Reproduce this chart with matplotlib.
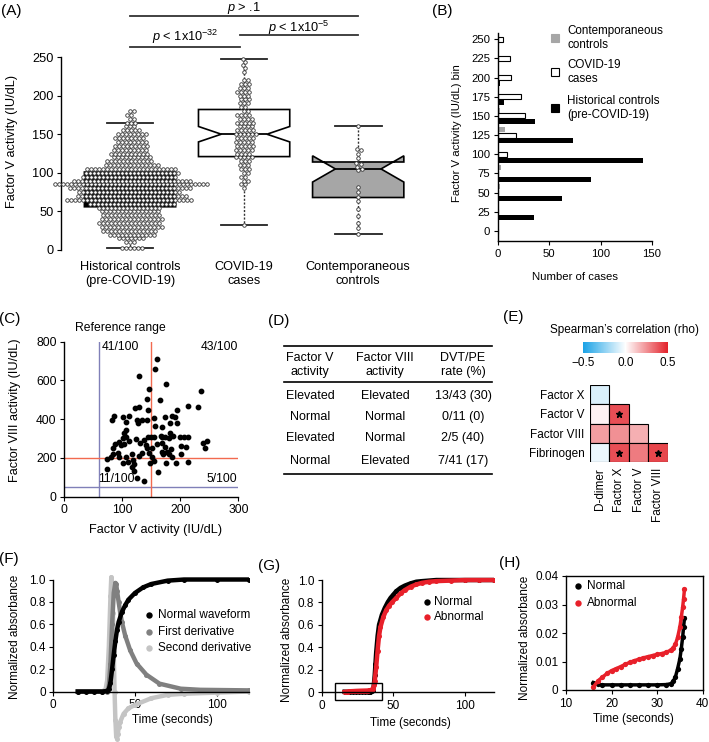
import numpy as np
import matplotlib
matplotlib.use("Agg")
import matplotlib.pyplot as plt
from matplotlib.patches import Rectangle
from matplotlib.lines import Line2D
from matplotlib.colors import LinearSegmentedColormap, Normalize
from matplotlib.cm import ScalarMappable

plt.rcParams['font.family'] = ['Liberation Sans', 'DejaVu Sans']
plt.rcParams['mathtext.fontset'] = 'custom'
plt.rcParams['mathtext.rm'] = 'Liberation Sans'
plt.rcParams['mathtext.it'] = 'Liberation Sans:italic'
plt.rcParams['font.size'] = 8.5
plt.rcParams['axes.linewidth'] = 1.0
plt.rcParams['xtick.major.size'] = 3
plt.rcParams['ytick.major.size'] = 3
plt.rcParams['xtick.major.pad'] = 2.5
plt.rcParams['ytick.major.pad'] = 2.5

# ---- (A) factor V activity by group
groups = ["Historical controls\n(pre-COVID-19)", "COVID-19\ncases", "Contemporaneous\ncontrols"]
hist_levels = [3, 10, 15, 20, 25, 30, 35, 40, 45, 50, 55, 60, 65, 70, 75, 80, 85, 90,
               95, 100, 105, 110, 115, 120, 125, 130, 135, 140, 145, 150, 155, 160, 165, 170, 175, 180]
hist_counts = [6, 3, 7, 12, 14, 16, 16, 16, 15, 15, 16, 22, 32, 28, 26, 31, 39, 30,
               24, 24, 23, 14, 12, 10, 10, 9, 9, 8, 8, 8, 5, 3, 3, 2, 2, 2]
covid_levels = [248, 244, 240, 236, 231, 220, 215, 210, 205, 200, 195, 190, 185, 180,
                175, 170, 165, 160, 155, 150, 145, 140, 135, 130, 125, 120, 115, 110, 105,
                100, 95, 90, 85, 80, 33]
covid_counts = [1, 1, 1, 1, 1, 2, 3, 3, 4, 3, 3, 3, 2, 2,
                4, 4, 5, 4, 5, 6, 5, 5, 5, 5, 4, 5, 3, 3, 3,
                2, 2, 2, 2, 1, 1]
contemp_vals = [161, 131, 129, 125, 119, 113, 111, 108, 105, 103, 82, 75, 69, 63, 53, 44, 35, 28, 21]
box_med = [80, 150, 105]
box_q1 = [56, 121, 68]
box_q3 = [101, 182, 114]
box_lo = [2, 33, 21]
box_hi = [164, 248, 161]
notch_lo = [77, 140, 88]
notch_hi = [83, 160, 122]
box_colors = ["black", "white", "#a6a6a6"]
pvals = [r"$p$ > .1", r"$p$ < 1x10$^{-32}$", r"$p$ < 1x10$^{-5}$"]

# ---- (B) binned counts
bins = [0, 25, 50, 75, 100, 125, 150, 175, 200, 225, 250]
hist_b = [0, 35, 62, 91, 141, 73, 36, 6, 2, 0, 0]
covid_b = [0, 0, 0, 0, 9, 18, 26, 22, 13, 12, 5]
contemp_b = [0, 1, 2, 3, 1, 7, 2, 0, 0, 0, 0]

# ---- (C) factor V vs factor VIII
fv = [159, 157, 176, 129, 146, 142, 165, 236, 213, 231, 85, 83, 122, 129, 102, 111, 125, 127,
      134, 142, 145, 154, 157, 174, 194, 186, 191, 195, 182, 169, 106, 106, 103, 107, 102, 111,
      94, 103, 97, 87, 84, 92, 80, 84, 107, 102, 74, 73, 94, 116, 119, 120, 117, 120, 126, 138,
      128, 134, 141, 138, 144, 149, 143, 146, 151, 151, 147, 162, 155, 159, 166, 169, 169, 174,
      173, 169, 171, 176, 180, 182, 188, 184, 181, 177, 192, 185, 202, 202, 200, 206, 210, 213,
      214, 239, 242, 246, 130, 124, 110, 155]
f8 = [710, 657, 581, 623, 554, 506, 499, 545, 468, 465, 416, 396, 456, 465, 413, 416, 396, 382,
      396, 396, 447, 406, 365, 409, 447, 416, 409, 378, 378, 361, 387, 344, 327, 310, 301, 289,
      284, 274, 267, 272, 249, 224, 206, 220, 206, 172, 141, 193, 203, 218, 189, 169, 151, 132, 95, 81,
      210, 224, 267, 292, 310, 310, 253, 224, 253, 206, 172, 126, 310, 272, 315, 310, 275, 310,
      258, 232, 218, 174, 301, 327, 313, 248, 220, 232, 172, 206, 220, 263, 310, 310, 258, 181,
      310, 279, 249, 289, 275, 300, 180, 185]

# ---- (D) table
tab_head = ["Factor V\nactivity", "Factor VIII\nactivity", "DVT/PE\nrate (%)"]
tab_fv = ["Elevated", "Normal", "Elevated", "Normal"]
tab_f8 = ["Elevated", "Normal", "Normal", "Elevated"]
tab_rate = ["13/43 (30)", "0/11 (0)", "2/5 (40)", "7/41 (17)"]

# ---- (E) Spearman correlation
e_rows = ["Factor X", "Factor V", "Factor VIII", "Fibrinogen"]
e_cols = ["D-dimer", "Factor X", "Factor V", "Factor VIII"]
rho = [[-0.08, np.nan, np.nan, np.nan],
       [0.03, 0.40, np.nan, np.nan],
       [0.22, 0.25, 0.18, np.nan],
       [-0.04, 0.40, 0.30, 0.42]]
sig = [(1, 1), (3, 1), (3, 3)]

# ---- (F) waveform and derivatives
f_t = [15, 20, 25, 30, 33, 34, 35, 36, 37, 38, 39, 40, 42, 44, 46, 50, 55, 60, 70, 80, 100, 120]
f_wave = [0, 0, 0, 0, 0.005, 0.02, 0.08, 0.2, 0.33, 0.45, 0.55, 0.62, 0.71, 0.77, 0.82, 0.88,
          0.93, 0.96, 0.99, 1.0, 1.0, 1.0]
d1_t = [15, 30, 33, 34, 35, 36, 37, 38, 38.5, 39, 40, 41, 42, 44, 47, 51, 57, 65, 78, 90, 120]
d1 = [0, 0, 0, 0.05, 0.25, 0.6, 0.88, 0.97, 0.96, 0.9, 0.8, 0.7, 0.62, 0.5, 0.37, 0.25, 0.15,
      0.07, 0.025, 0.015, 0.01]
d2_t = [15, 30, 32, 33, 34, 35, 35.5, 36, 36.5, 37, 37.5, 38, 38.5, 39, 39.5, 40, 41, 43, 46,
        50, 60, 70, 80, 100, 120]
d2 = [0, 0, 0.02, 0.1, 0.4, 0.85, 1.02, 0.95, 0.7, 0.35, 0.0, -0.25, -0.4, -0.42, -0.38,
      -0.32, -0.27, -0.2, -0.15, -0.12, -0.06, -0.03, -0.02, -0.01, 0]

# ---- (G)/(H) normal vs abnormal waveform
nrm_t = [16, 17, 18, 20, 22, 24, 26, 28, 30, 32, 33, 33.5, 34, 34.5, 35, 35.3, 35.6, 35.8, 36,
         36.5, 37, 37.5, 38, 39, 40, 42, 44, 46, 48, 50, 52, 55, 58, 62, 66, 70, 80, 90, 100, 110, 120]
nrm_y = [0.0026, 0.002, 0.0018, 0.0018, 0.0018, 0.0018, 0.0018, 0.0018, 0.0018, 0.0019,
         0.0022, 0.003, 0.0045, 0.0075, 0.011, 0.0145, 0.0185, 0.022, 0.0253,
         0.08, 0.15, 0.25, 0.35, 0.5, 0.6, 0.69, 0.75, 0.8, 0.84, 0.87, 0.9, 0.93, 0.95, 0.97,
         0.985, 0.99, 1.0, 1.0, 1.0, 1.0, 1.0]
abn_t = [16, 17, 18, 19, 20, 21, 22, 23, 24, 25, 26, 27, 28, 29, 30, 31, 32, 33, 33.5, 34,
         34.5, 35, 35.3, 35.6, 35.8, 36, 36.5, 37, 38, 39, 40, 41, 43, 45, 47, 49, 52, 55, 58,
         62, 66, 70, 75, 80, 90, 100, 110, 120]
abn_y = [0.001, 0.0032, 0.0045, 0.0058, 0.0068, 0.0075, 0.0082, 0.009, 0.0097, 0.0103,
         0.0108, 0.0113, 0.0117, 0.0121, 0.0125, 0.0128, 0.0132, 0.014, 0.0148, 0.016,
         0.0185, 0.0222, 0.0255, 0.029, 0.032, 0.0353, 0.06, 0.1, 0.22, 0.37, 0.5, 0.58,
         0.67, 0.73, 0.77, 0.8, 0.84, 0.88, 0.91, 0.94, 0.96, 0.975, 0.985, 0.99, 0.995,
         1.0, 1.0, 1.0]

W, H = 709, 742
fig = plt.figure(figsize=(W / 100, H / 100), dpi=100)
FA = 9.2   # text size of panels A, C, D


def box(l, t, r, b):
    return fig.add_axes([l / W, 1 - b / H, (r - l) / W, (b - t) / H])


def ftxt(x, y, s, **kw):
    kw.setdefault("ha", "center")
    kw.setdefault("va", "center")
    fig.text(x / W, 1 - y / H, s, **kw)


def fline(x0, x1, y, lw=1.2):
    fig.add_artist(Line2D([x0 / W, x1 / W], [1 - y / H] * 2, color="black", lw=lw))


def fdot(x, y, c, ms=4.6):
    fig.add_artist(Line2D([x / W], [1 - y / H], marker="o", ms=ms, color=c, mew=0))


def swarm(vals, d, sy):
    ys = np.sort(np.asarray(vals, float)) * sy
    steps = np.arange(0.5, 200, 0.5)
    cand = np.concatenate([[0.0], np.column_stack([steps, -steps]).ravel()])
    px, py = np.array([]), np.array([])
    for y in ys:
        m = np.abs(py - y) < d
        qx, qy = px[m], py[m]
        for c in cand:
            if not np.any((qx - c) ** 2 + (qy - y) ** 2 < d * d):
                break
        px = np.append(px, c)
        py = np.append(py, y)
    return px, py / sy


for x, y, s in [(11, 11, "(A)"), (442, 11, "(B)"), (10, 319, "(C)"), (279, 321, "(D)"),
                (513, 317, "(E)"), (9, 559, "(F)"), (269, 566, "(G)"), (510, 563, "(H)")]:
    ftxt(x, y, s, fontsize=11)

# ===== A
aA = box(61, 57, 470, 250)
aA.set_xlim(-0.605, 2.98)
aA.set_ylim(0, 250)
for s in ["top", "right", "bottom"]:
    aA.spines[s].set_visible(False)
aA.set_yticks(range(0, 251, 50))
aA.set_xticks([0, 1, 2])
aA.set_xticklabels(groups)
aA.tick_params(axis="x", length=0, pad=8, labelsize=FA)
aA.tick_params(axis="y", labelsize=FA)
stats = [dict(med=box_med[i], q1=box_q1[i], q3=box_q3[i], whislo=box_lo[i], whishi=box_hi[i],
              cilo=notch_lo[i], cihi=notch_hi[i], fliers=[]) for i in range(3)]
bp = aA.bxp(stats, positions=[0, 1, 2], widths=0.8, capwidths=0.41, shownotches=True,
            patch_artist=True, showfliers=False, manage_ticks=False,
            boxprops=dict(edgecolor="black", linewidth=1.2),
            whiskerprops=dict(linestyle=(0, (1.5, 1.2)), linewidth=1.0, color="#333333"),
            capprops=dict(linewidth=1.3, color="#222222"),
            medianprops=dict(color="black", linewidth=1.3))
for p, c in zip(bp["boxes"], box_colors):
    p.set_facecolor(c)
p0, p1 = aA.transData.transform([[0, 0], [1, 1]])
sx, sy = p1[0] - p0[0], p1[1] - p0[1]
for pos, vals in enumerate([np.repeat(hist_levels, hist_counts),
                            np.repeat(covid_levels, covid_counts), contemp_vals]):
    ox, vy = swarm(vals, 3.95, sy)
    aA.scatter(pos + ox / sx, vy, s=6.5, facecolor="white", edgecolor="#333333",
               linewidth=0.6, zorder=3, clip_on=False)
for (x0, x1), yl, yt, s in zip([(0, 2), (0, 0.96), (0.96, 2)], [303.5, 263.3, 278.5],
                               [313.5, 276.3, 287.2], pvals):
    aA.plot([x0, x1], [yl, yl], color="#333333", lw=1.3, clip_on=False)
    aA.text((x0 + x1) / 2, yt, s, ha="center", va="center", fontsize=FA)
ftxt(12, 141, "Factor V activity (IU/dL)", rotation=90, fontsize=FA)

# ===== B
aB = box(498, 33, 652, 241)
b = np.array(bins)
aB.barh(b + 7.5, contemp_b, height=6.5, color="#a6a6a6")
aB.barh(b, covid_b, height=6.5, color="white", edgecolor="black", linewidth=0.8)
aB.barh(b - 7.5, hist_b, height=6.5, color="black")
aB.set_xlim(0, 150)
aB.set_ylim(-13, 258)
aB.set_yticks(bins)
aB.set_xticks([0, 50, 100, 150])
aB.tick_params(labelsize=8.2)
for s in ["top", "right"]:
    aB.spines[s].set_visible(False)
ftxt(457, 133, "Factor V activity (IU/dL) bin", rotation=90, fontsize=8.2)
ftxt(575, 277, "Number of cases", fontsize=8.2)
for yy, fc, lab in [(38, "#a6a6a6", "Contemporaneous\ncontrols"), (72, "white", "COVID-19\ncases"),
                    (108, "black", "Historical controls\n(pre-COVID-19)")]:
    fig.add_artist(Rectangle(((555 - 4) / W, 1 - (yy + 4) / H), 8 / W, 8 / H,
                             transform=fig.transFigure, facecolor=fc,
                             edgecolor="black" if fc == "white" else fc, lw=0.8))
    ftxt(567, yy, lab, ha="left", fontsize=8.4, linespacing=1.15)

# ===== C
aC = box(64.3, 341.7, 238.3, 496.7)
aC.scatter(fv, f8, s=10, color="black", zorder=3)
aC.axvline(60, color="#8080b8", lw=1.0)
aC.axhline(50, color="#8080b8", lw=1.0)
aC.axvline(150, color="#f26a4f", lw=1.0)
aC.axhline(200, color="#f26a4f", lw=1.0)
aC.set_xlim(0, 300)
aC.set_ylim(0, 800)
aC.set_xticks([0, 100, 200, 300])
aC.set_yticks([0, 200, 400, 600, 800])
aC.tick_params(labelsize=8.7)
for s in ["top", "right"]:
    aC.spines[s].set_visible(False)
ftxt(15, 410, "Factor VIII activity (IU/dL)", rotation=90, fontsize=FA)
ftxt(156, 530, "Factor V activity (IU/dL)", fontsize=FA)
ftxt(120, 328, "Reference range", fontsize=8.7)
ftxt(120.5, 347, "41/100", fontsize=8.7)
ftxt(219.5, 347, "43/100", fontsize=8.7)
ftxt(116.5, 479, "11/100", fontsize=8.7)
ftxt(221.5, 479, "5/100", fontsize=8.7)

# ===== D
fline(284, 492, 346)
fline(284, 492, 381.7)
fline(284, 492, 474)
cx = [310, 385, 463]
for x, s in zip(cx, tab_head):
    ftxt(x, 365, s, linespacing=1.15, fontsize=9)
for y, a, bb, c in zip([396, 416.7, 438, 461], tab_fv, tab_f8, tab_rate):
    ftxt(cx[0], y, a, fontsize=9)
    ftxt(cx[1], y, bb, fontsize=9)
    ftxt(cx[2], y, c, fontsize=9)

# ===== E
cmap = LinearSegmentedColormap.from_list("rb", ["#1aa2e6", "#ffffff", "#e3232b"])
norm = Normalize(-0.5, 0.5)
aE = box(590, 385, 667.7, 462.3)
for i in range(4):
    for j in range(4):
        v = rho[i][j]
        if not np.isnan(v):
            aE.add_patch(Rectangle((j, i), 1, 1, facecolor=cmap(norm(v)), edgecolor="black", lw=0.8))
for i, j in sig:
    aE.plot(j + 0.5, i + 0.5, marker="*", ms=4.5, color="black")
aE.set_xlim(0, 4)
aE.set_ylim(4, 0)
for s in aE.spines.values():
    s.set_visible(False)
aE.set_xticks(np.arange(4) + 0.5)
aE.set_xticklabels(e_cols, rotation=90)
aE.set_yticks(np.arange(4) + 0.5)
aE.set_yticklabels(e_rows)
aE.tick_params(length=0, pad=4)
cax = box(583, 342, 668, 353)
cb = fig.colorbar(ScalarMappable(norm=norm, cmap=cmap), cax=cax, orientation="horizontal",
                  ticks=[-0.5, 0, 0.5])
cb.outline.set_visible(False)
cb.ax.set_xticklabels(["\u22120.5", "0.0", "0.5"])
cax.tick_params(length=0, pad=3)
ftxt(625, 330, "Spearman\u2019s correlation (rho)")


def wave_axes(ax):
    for s in ["top", "right"]:
        ax.spines[s].set_visible(False)
    ax.spines["bottom"].set_position(("data", 0))
    ax.spines["bottom"].set_bounds(0, 120)
    ax.spines["left"].set_bounds(0, 1)
    ax.set_xlim(0, 120)
    ax.set_ylim(-0.45, 1.06)
    ax.set_xticks([0, 50, 100])
    ax.set_yticks([0, 0.2, 0.4, 0.6, 0.8, 1.0])
    ax.set_yticklabels(["0", "0.2", "0.4", "0.6", "0.8", "1.0"])


# ===== F
aF = box(53.3, 572.8, 249.3, 741.9)
wave_axes(aF)
for t, y, c in [(d2_t, d2, "#c4c4c4"), (d1_t, d1, "#808080"), (f_t, f_wave, "black")]:
    aF.plot(t, y, "-o", color=c, lw=3.2, ms=3.6, mew=0)
for yy, c, lab in [(615, "black", "Normal waveform"), (631.7, "#808080", "First derivative"),
                   (648.3, "#c4c4c4", "Second derivative")]:
    fdot(149, yy, c)
    ftxt(158, yy, lab, ha="left")
ftxt(15, 637, "Normalized absorbance", rotation=90)
ftxt(172, 720, "Time (seconds)")

# ===== G
aG = box(321.7, 573.3, 493.7, 742.4)
wave_axes(aG)
aG.plot(nrm_t, nrm_y, "-o", color="black", lw=3.2, ms=3.6, mew=0)
aG.plot(abn_t, abn_y, "-o", color="#e8202a", lw=3.2, ms=3.6, mew=0)
aG.add_patch(Rectangle((9, -0.07), 33, 0.15, fill=False, edgecolor="black", lw=1.0, zorder=4))
for yy, c, lab in [(601.7, "black", "Normal"), (617.3, "#e8202a", "Abnormal")]:
    fdot(426.7, yy, c)
    ftxt(434, yy, lab, ha="left")
ftxt(287, 640, "Normalized absorbance", rotation=90)
ftxt(410, 723, "Time (seconds)")

# ===== H
aH = box(566, 576, 702.7, 690)
nt, ny = np.array(nrm_t), np.array(nrm_y)
at, ay = np.array(abn_t), np.array(abn_y)
aH.plot(nt[nt <= 36], ny[nt <= 36], "-o", color="black", lw=2.5, ms=3.8, mew=0)
aH.plot(at[at <= 36], ay[at <= 36], "-o", color="#e8202a", lw=2.5, ms=3.8, mew=0)
aH.set_xlim(10, 40)
aH.set_ylim(0, 0.04)
aH.set_xticks([10, 20, 30, 40])
aH.set_yticks([0, 0.01, 0.02, 0.03, 0.04])
aH.set_yticklabels(["0", "0.01", "0.02", "0.03", "0.04"])
for yy, c, lab in [(586, "black", "Normal"), (602.7, "#e8202a", "Abnormal")]:
    fdot(578.3, yy, c)
    ftxt(586.7, yy, lab, ha="left")
ftxt(525, 638, "Normalized absorbance", rotation=90)
ftxt(633, 719, "Time (seconds)")

fig.savefig("out.png", dpi=100)
